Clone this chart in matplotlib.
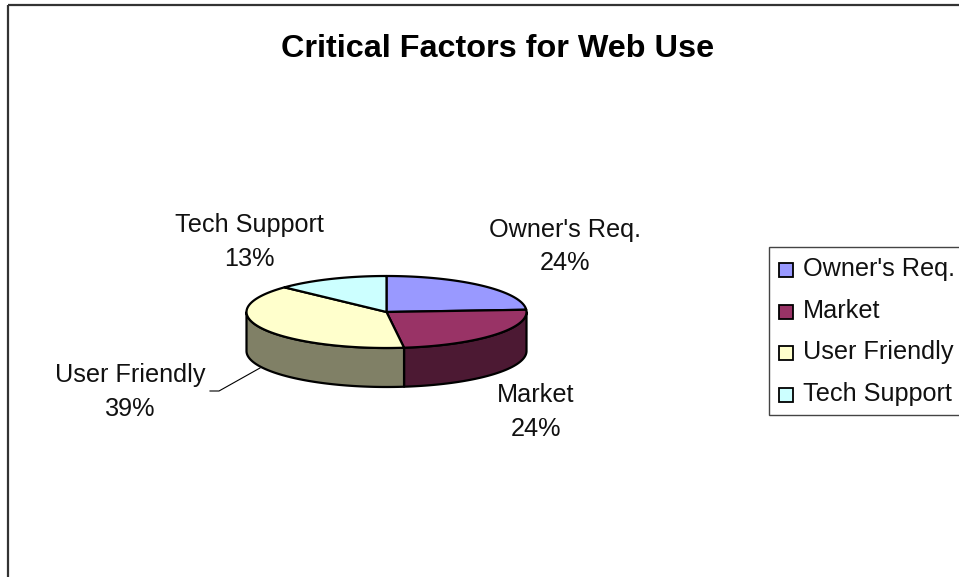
import numpy as np
import matplotlib
matplotlib.use('Agg')
import matplotlib.pyplot as plt
from matplotlib.patches import Polygon, Rectangle

# survey shares (percent) for each factor
labels = ["Owner's Req.", "Market", "User Friendly", "Tech Support"]
shares = [24, 24, 39, 13]
colors = ['#9999FF', '#993366', '#FFFFCC', '#CCFFFF']
side_colors = ['#4C4C80', '#4C1933', '#808066', '#668080']

plt.rcParams['font.family'] = ['Liberation Sans', 'DejaVu Sans']

W, H = 959, 577
fig = plt.figure(figsize=(W / 100, H / 100), dpi=100)
ax = fig.add_axes([0, 0, 1, 1])
ax.set_xlim(0, W)
ax.set_ylim(H, 0)
ax.axis('off')

# frame (top and left edges only show)
ax.plot([8, W], [5, 5], color='#333333', lw=1.6, solid_capstyle='butt')
ax.plot([8, 8], [5, H], color='#333333', lw=1.6, solid_capstyle='butt')

ax.text(498, 49, "Critical Factors for Web Use", fontsize=23.3, fontweight='bold',
        ha='center', va='center', color='black')

# 3d pie geometry
cx, cy, rx, ry, depth = 386.5, 312, 140, 36, 39


def rim(t1, t2, dy=0, n=120):
    t = np.radians(np.linspace(t1, t2, n))
    return np.column_stack([cx + rx * np.cos(t), cy - ry * np.sin(t) + dy])


edges = 90 - 360 * np.concatenate([[0], np.cumsum(shares)]) / sum(shares)

# visible side walls (front half of the disc)
for i in range(len(shares)):
    hi = min(edges[i], 0)
    lo = max(edges[i + 1], -180)
    if hi > lo:
        pts = np.vstack([rim(hi, lo), rim(lo, hi, depth)])
        ax.add_patch(Polygon(pts, closed=True, facecolor=side_colors[i],
                             edgecolor='black', lw=1.6, joinstyle='round'))

# top faces
for i in range(len(shares)):
    pts = np.vstack([[cx, cy], rim(edges[i], edges[i + 1])])
    ax.add_patch(Polygon(pts, closed=True, facecolor=colors[i],
                         edgecolor='black', lw=1.6, joinstyle='round'))

# data labels
label_xy = [(565, 237), (536, 402), (130, 382), (249, 232)]
for name, v, (lx, ly) in zip(labels, shares, label_xy):
    ax.text(lx, ly, name, fontsize=18.2, ha='center', va='baseline', color='#111111')
    ax.text(lx, ly + 33.5, f"{v}%", fontsize=18.2, ha='center', va='baseline', color='#111111')

# leader line for User Friendly
ax.plot([210, 219, 260], [391, 391, 368], color='black', lw=0.8)

# legend
ax.add_patch(Rectangle((769, 247), 230, 168, facecolor='white', edgecolor='#444444',
                       lw=1.0, clip_on=False))
for k, (name, c) in enumerate(zip(labels, colors)):
    yc = 270 + k * 41.7
    ax.add_patch(Rectangle((779, yc - 7), 14, 14, facecolor=c, edgecolor='black', lw=1.3))
    ax.text(803, yc + 6, name, fontsize=18.2, ha='left', va='baseline', color='#111111')

fig.savefig('out.png', dpi=100)
